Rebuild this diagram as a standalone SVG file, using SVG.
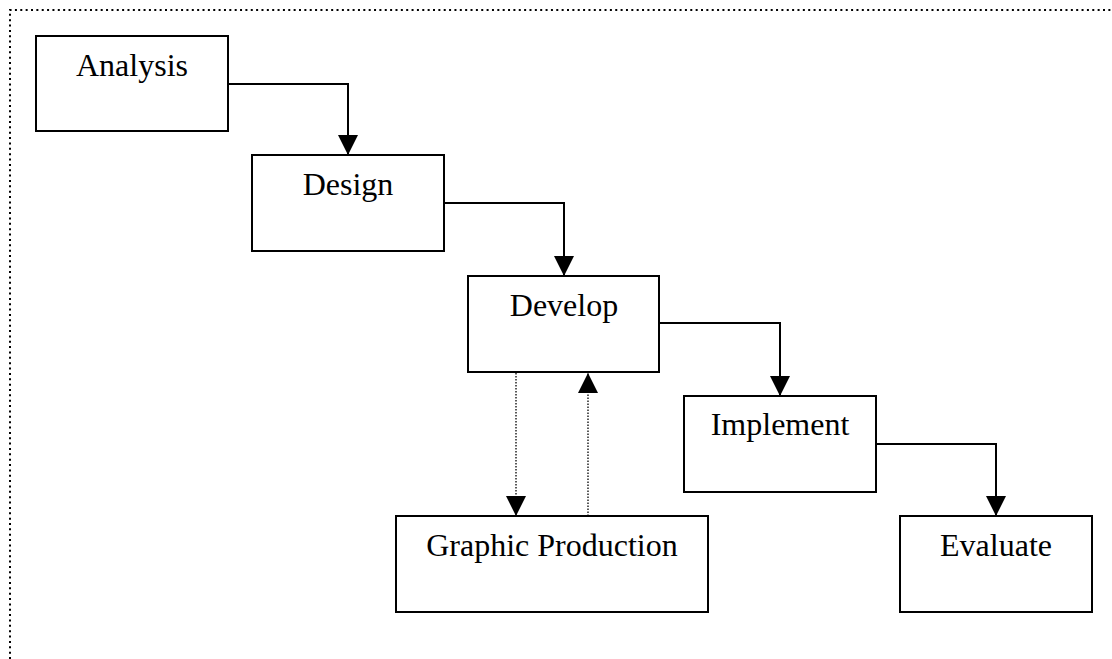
<svg xmlns="http://www.w3.org/2000/svg" width="1112" height="659" viewBox="0 0 1112 659">
  <style>
    .box { fill: #fff; stroke: #000; stroke-width: 2; }
    .label { font-family: "Liberation Serif", "Times New Roman", serif; font-size: 32px; fill: #000; text-anchor: middle; }
    .flow { fill: none; stroke: #000; stroke-width: 2; marker-end: url(#head); }
    .dotted { fill: none; stroke: #000; stroke-width: 1.3; stroke-dasharray: 1.5 1.5; marker-end: url(#head); }
    .frame { fill: none; stroke: #000; stroke-width: 2; stroke-dasharray: 2 3.36; }
  </style>
  <defs>
    <marker id="head" markerUnits="userSpaceOnUse" markerWidth="20" markerHeight="20" refX="20" refY="10" orient="auto" viewBox="0 0 20 20">
      <path d="M0,0 L20,10 L0,20 Z" fill="#000"/>
    </marker>
  </defs>

  <!-- dotted page frame (top and left edges) -->
  <path class="frame" d="M10,659 V10 H1112"/>

  <g id="connectors">
    <path class="flow" d="M228,84 H348 V155"/>
    <path class="flow" d="M444,203 H564 V276"/>
    <path class="flow" d="M660,323 H780 V396"/>
    <path class="flow" d="M876,444 H996 V516"/>
    <path class="dotted" d="M516,373 V516"/>
    <path class="dotted" d="M588,516 V373"/>
  </g>

  <g id="analysis">
    <rect class="box" x="36" y="36" width="192" height="95"/>
    <text class="label" x="132" y="76">Analysis</text>
  </g>
  <g id="design">
    <rect class="box" x="252" y="155" width="192" height="96"/>
    <text class="label" x="348" y="195">Design</text>
  </g>
  <g id="develop">
    <rect class="box" x="468" y="276" width="191" height="96"/>
    <text class="label" x="564" y="316">Develop</text>
  </g>
  <g id="implement">
    <rect class="box" x="684" y="396" width="192" height="96"/>
    <text class="label" x="780" y="435">Implement</text>
  </g>
  <g id="graphic-production">
    <rect class="box" x="396" y="516" width="312" height="96"/>
    <text class="label" x="552" y="556">Graphic Production</text>
  </g>
  <g id="evaluate">
    <rect class="box" x="900" y="516" width="192" height="96"/>
    <text class="label" x="996" y="556">Evaluate</text>
  </g>
</svg>
